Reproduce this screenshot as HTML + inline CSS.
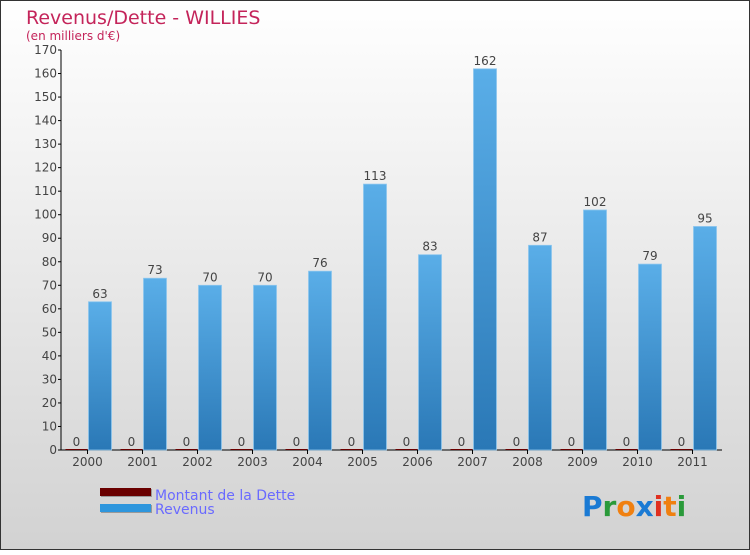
<!DOCTYPE html>
<html><head><meta charset="utf-8"><style>
body{margin:0;}
svg text{font-family:"DejaVu Sans","Liberation Sans",sans-serif;}
</style></head><body>
<svg id="chart" width="750" height="550" viewBox="0 0 750 550" xmlns="http://www.w3.org/2000/svg">
<defs>
<linearGradient id="bg" x1="0" y1="0" x2="0" y2="1"><stop offset="0" stop-color="#ffffff"/><stop offset="1" stop-color="#d2d2d2"/></linearGradient>
<linearGradient id="bar" x1="0" y1="0" x2="0" y2="1"><stop offset="0" stop-color="#5aaee8"/><stop offset="1" stop-color="#2a78b6"/></linearGradient>
</defs>
<rect x="0.5" y="0.5" width="749" height="549" fill="url(#bg)" stroke="#333"/>
<text x="26" y="24" font-size="19" fill="#c4245a">Revenus/Dette - WILLIES</text>
<text x="26" y="40" font-size="12" fill="#c4245a">(en milliers d'€)</text>
<g id="axes"></g>
<g id="bars"></g>
<g>
<rect x="101" y="489" width="51" height="8" fill="#999"/>
<rect x="100" y="488" width="51" height="8" fill="#6a0000"/>
<text x="155" y="500" font-size="14" fill="#6a6aff">Montant de la Dette</text>
<rect x="101" y="505" width="51" height="8" fill="#999"/>
<rect x="100" y="504" width="51" height="8" fill="#2e96dd"/>
<text x="155" y="514" font-size="14" fill="#6a6aff">Revenus</text>
</g>
<g font-size="28" font-weight="bold">
<text x="582" y="516"><tspan fill="#1a7ad4">P</tspan><tspan fill="#2a9a3a">r</tspan><tspan fill="#f08010">o</tspan><tspan fill="#1a7ad4">x</tspan><tspan fill="#e03020">i</tspan><tspan fill="#f08010">t</tspan><tspan fill="#2a9a3a">i</tspan></text>
</g>
</svg>
<script>
const years=["2000","2001","2002","2003","2004","2005","2006","2007","2008","2009","2010","2011"];
const dette=[0,0,0,0,0,0,0,0,0,0,0,0];
const revenus=[63,73,70,70,76,113,83,162,87,102,79,95];
const yTicks=[0,10,20,30,40,50,60,70,80,90,100,110,120,130,140,150,160,170];
const NS="http://www.w3.org/2000/svg";
const y0=450,yTop=50,yMax=170;
function ys(v){return y0-(v/yMax)*(y0-yTop);}
function xs(i){return 87.5+55*i;}
function mk(t,a,p,txt){const e=document.createElementNS(NS,t);for(const k in a)e.setAttribute(k,a[k]);if(txt!==undefined)e.textContent=txt;p.appendChild(e);return e;}
const ax=document.getElementById('axes'),bg=document.getElementById('bars');
const yl=mk('line',{x1:61,y1:50,x2:61,y2:450,stroke:'#000'},ax);


const xl=mk('line',{x1:61,y1:450,x2:722,y2:450,stroke:'#000'},ax);


yTicks.forEach(v=>{
 mk('line',{x1:58,y1:ys(v),x2:61,y2:ys(v),stroke:'#000'},ax);
 const t=mk('text',{x:57,y:ys(v)+4,'font-size':12,fill:'#444','text-anchor':'end'},ax,String(v));
 
 
});
years.forEach((yr,i)=>{
 const cx=xs(i);
 mk('line',{x1:cx,y1:450,x2:cx,y2:454,stroke:'#000'},ax);
 const t=mk('text',{x:cx,y:466,'font-size':12,fill:'#444','text-anchor':'middle'},ax,yr);
 
 
 const dy=ys(dette[i]);
 const d=mk('rect',{x:cx-22,y:dy-1,width:22,height:Math.max(1,y0-dy)+0,fill:'#6a0000'},bg);
 
 
 const dl=mk('text',{x:cx-11,y:dy-4,'font-size':12,fill:'#444','text-anchor':'middle'},bg,String(dette[i]));
 
 
 const ry=ys(revenus[i]);
 const r=mk('rect',{x:cx+1,y:ry,width:23,height:y0-ry,fill:'url(#bar)',stroke:'#8cc6ee','stroke-width':0.8},bg);
 
 
 const rl=mk('text',{x:cx+12.5,y:ry-4,'font-size':12,fill:'#444','text-anchor':'middle'},bg,String(revenus[i]));
 
 
});
</script>
</body></html>
